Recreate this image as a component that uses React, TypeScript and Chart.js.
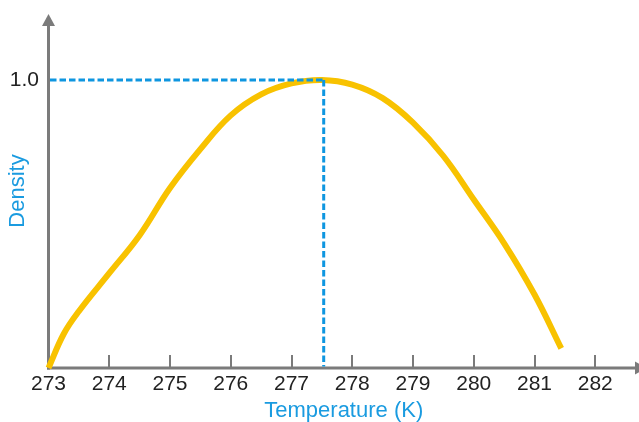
import React, { useEffect, useRef } from 'react';
import { Chart, registerables } from 'chart.js';

Chart.register(...registerables);

// Data
const temperatures = [273.0, 273.25, 273.5, 274.0, 274.5, 275.0, 275.5, 276.0, 276.5, 277.0, 277.5, 278.0, 278.5, 279.0, 279.5, 280.0, 280.5, 281.0, 281.44];
const densities = [0.0, 0.118, 0.197, 0.329, 0.461, 0.625, 0.76, 0.877, 0.95, 0.988, 1.0, 0.984, 0.937, 0.852, 0.736, 0.585, 0.433, 0.255, 0.068];
const xTickValues = [273, 274, 275, 276, 277, 278, 279, 280, 281, 282];
const yTickValues = [1.0];
const peakTemperature = 277.53;
const peakDensity = 1.0;
const xTitle = 'Temperature (K)';
const yTitle = 'Density';

const FONT = "'Liberation Sans', Arial, Helvetica, sans-serif";
const AXIS_COLOR = '#7b7b7b';
const TEXT_COLOR = '#222222';
const BLUE = '#1a9be0';
const DASH_BLUE = '#0e96e0';
const CURVE = '#f8c200';

const axesPlugin = {
  id: 'customAxes',
  beforeDatasetsDraw(chart: any) {
    const { ctx, chartArea, scales } = chart;
    const xs = scales.x;
    const left = chartArea.left;
    const bottom = chartArea.bottom;
    ctx.save();
    ctx.strokeStyle = AXIS_COLOR;
    ctx.fillStyle = AXIS_COLOR;
    ctx.lineWidth = 3;
    ctx.lineCap = 'butt';
    // y axis line
    ctx.beginPath();
    ctx.moveTo(left, bottom + 1.5);
    ctx.lineTo(left, chartArea.top + 12);
    ctx.stroke();
    // y arrow
    ctx.beginPath();
    ctx.moveTo(left, chartArea.top);
    ctx.lineTo(left - 6.5, chartArea.top + 12);
    ctx.lineTo(left + 6.5, chartArea.top + 12);
    ctx.closePath();
    ctx.fill();
    // x axis line
    ctx.beginPath();
    ctx.moveTo(left - 1.5, bottom);
    ctx.lineTo(chartArea.right - 4, bottom);
    ctx.stroke();
    // x arrow
    ctx.beginPath();
    ctx.moveTo(chartArea.right - 4, bottom - 6.5);
    ctx.lineTo(chartArea.right + 8, bottom);
    ctx.lineTo(chartArea.right - 4, bottom + 6.5);
    ctx.closePath();
    ctx.fill();
    // upward tick marks
    ctx.lineWidth = 2;
    xTickValues.forEach((v) => {
      if (v === xs.min) return;
      const px = Math.round(xs.getPixelForValue(v));
      ctx.beginPath();
      ctx.moveTo(px, bottom);
      ctx.lineTo(px, bottom - 13);
      ctx.stroke();
    });
    ctx.restore();
  },
  afterDatasetsDraw(chart: any) {
    const { ctx, chartArea, scales } = chart;
    const px = scales.x.getPixelForValue(peakTemperature);
    const py = scales.y.getPixelForValue(peakDensity);
    ctx.save();
    ctx.strokeStyle = DASH_BLUE;
    ctx.lineWidth = 3;
    ctx.setLineDash([6.5, 3]);
    ctx.beginPath();
    ctx.moveTo(chartArea.left + 1.5, py);
    ctx.lineTo(px, py);
    ctx.stroke();
    ctx.beginPath();
    ctx.moveTo(px, py);
    ctx.lineTo(px, chartArea.bottom - 1.5);
    ctx.stroke();
    ctx.restore();
  },
};

export default function App() {
  const canvasRef = useRef<HTMLCanvasElement | null>(null);

  useEffect(() => {
    if (!canvasRef.current) return;
    const chart = new Chart(canvasRef.current, {
      type: 'line',
      data: {
        datasets: [
          {
            data: temperatures.map((t, i) => ({ x: t, y: densities[i] })),
            borderColor: CURVE,
            borderWidth: 6,
            borderCapStyle: 'butt',
            pointRadius: 0,
            tension: 0.4,
            fill: false,
            clip: false as any,
          },
        ],
      },
      options: {
        animation: false,
        responsive: false,
        events: [],
        layout: { padding: { top: 14, left: 0, right: 0, bottom: 0 } },
        plugins: { legend: { display: false }, tooltip: { enabled: false } },
        scales: {
          x: {
            type: 'linear',
            min: 273,
            max: 282.72,
            grid: { display: false, drawTicks: false },
            border: { display: false },
            afterBuildTicks: (s: any) => {
              s.ticks = xTickValues.map((v) => ({ value: v }));
            },
            afterFit: (s: any) => {
              s.height = 54;
              s.paddingLeft = 0;
              s.paddingRight = 0;
            },
            ticks: {
              autoSkip: false,
              maxRotation: 0,
              padding: 4,
              color: TEXT_COLOR,
              font: { family: FONT, size: 21 },
              callback: (v: any) => String(v),
            },
            title: {
              display: true,
              text: xTitle,
              color: BLUE,
              font: { family: FONT, size: 22, lineHeight: 1 },
              padding: { top: 0, bottom: 0 },
            },
          },
          y: {
            type: 'linear',
            min: 0,
            max: 1.229,
            grid: { display: false, drawTicks: false },
            border: { display: false },
            afterBuildTicks: (s: any) => {
              s.ticks = yTickValues.map((v) => ({ value: v }));
            },
            afterFit: (s: any) => {
              s.width = 48.5;
              s.paddingTop = 0;
              s.paddingBottom = 0;
            },
            ticks: {
              autoSkip: false,
              padding: 9.5,
              color: TEXT_COLOR,
              font: { family: FONT, size: 21 },
              callback: (v: any) => Number(v).toFixed(1),
            },
            title: {
              display: true,
              text: yTitle,
              color: BLUE,
              font: { family: FONT, size: 22, lineHeight: 1 },
              padding: { top: 7, bottom: 0 },
            },
          },
        },
      },
      plugins: [axesPlugin],
    });
    return () => chart.destroy();
  }, []);

  return (
    <div style={{ position: 'absolute', left: 0, top: 0, width: 639, height: 422, background: '#fff' }}>
      <canvas ref={canvasRef} width={639} height={422} />
    </div>
  );
}
